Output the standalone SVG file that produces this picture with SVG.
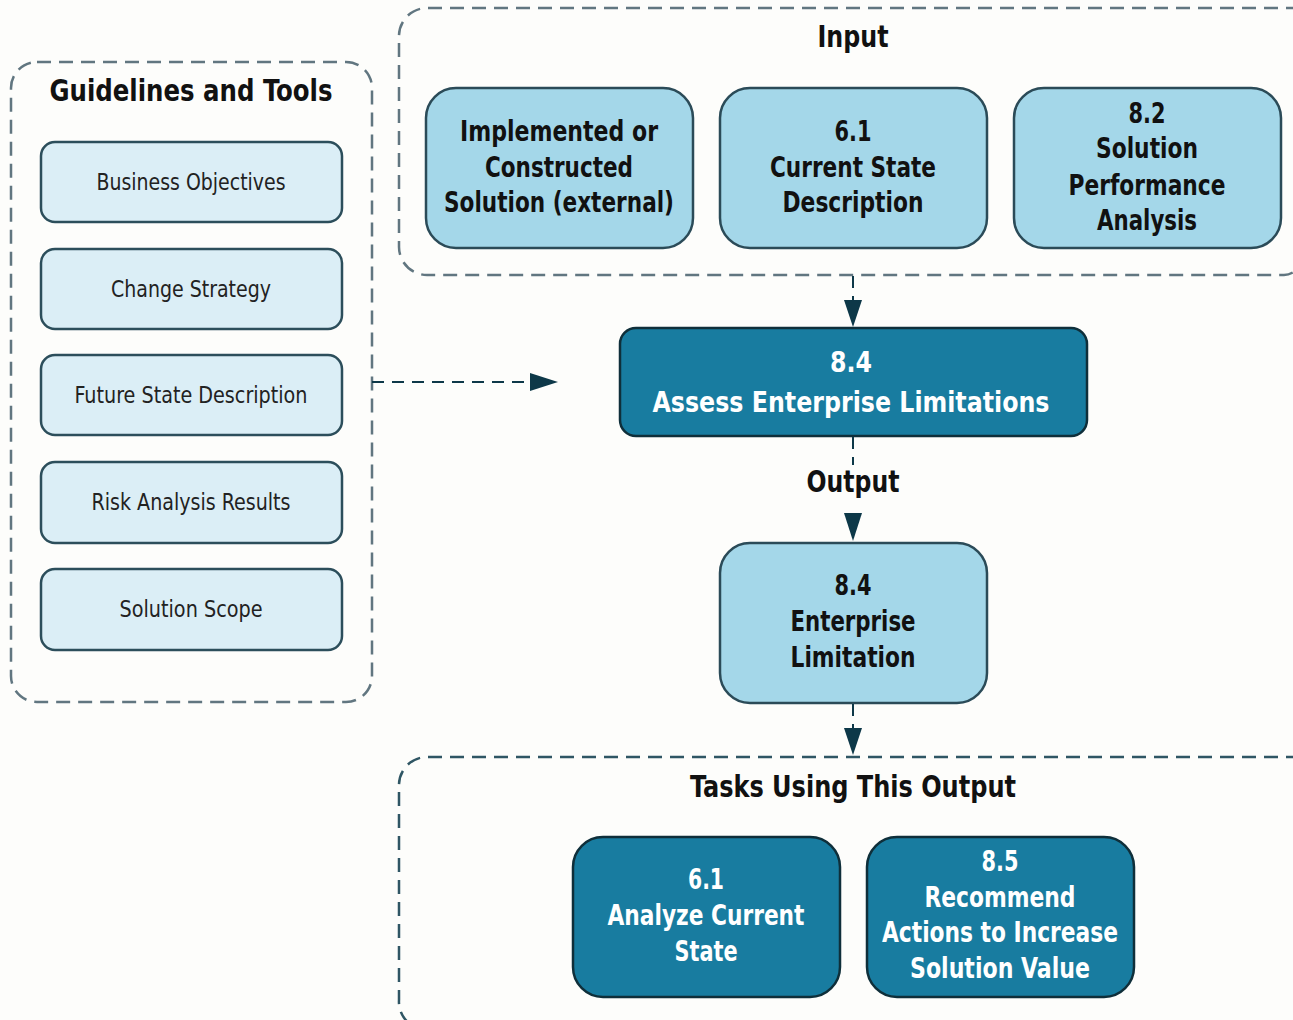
<svg xmlns="http://www.w3.org/2000/svg" width="1293" height="1020" viewBox="0 0 1293 1020">
<style>
text{font-family:"DejaVu Sans Condensed","DejaVu Sans","Open Sans",sans-serif;text-anchor:middle}
.cont{fill:none;stroke:#617680;stroke-width:2.5;stroke-dasharray:14 8}
.cont2{fill:none;stroke:#2f5664;stroke-width:2.5;stroke-dasharray:14 8}
.gt{fill:#dbeef6;stroke:#2c4e5b;stroke-width:2.5}
.gtt{font-size:23px;fill:#222}
.lt{fill:#a4d7e9;stroke:#2b4b58;stroke-width:2.5}
.ltt{font-size:28px;font-weight:bold;fill:#111}
.dk{fill:#187ca0;stroke:#0f2f3a;stroke-width:2.5}
.dkt{font-size:29px;font-weight:bold;fill:#fff}
.title{font-size:30px;font-weight:bold;fill:#111}
.conn{fill:none;stroke:#0d3848;stroke-width:2;stroke-dasharray:12 8}
.ah{fill:#0d3848}
</style>
<rect width="1293" height="1020" fill="#fdfdfb"/>
<g id="guidelines">
<rect class="cont" x="11" y="62" width="361" height="640" rx="26"/>
<text class="title" x="191" y="101" textLength="283" lengthAdjust="spacingAndGlyphs">Guidelines and Tools</text>
</g>
<g id="g1"><rect class="gt" x="41" y="142" width="301" height="80" rx="14"/><text class="gtt" x="191" y="190" textLength="189" lengthAdjust="spacingAndGlyphs">Business Objectives</text></g>
<g id="g2"><rect class="gt" x="41" y="249" width="301" height="80" rx="14"/><text class="gtt" x="191" y="297" textLength="160" lengthAdjust="spacingAndGlyphs">Change Strategy</text></g>
<g id="g3"><rect class="gt" x="41" y="355" width="301" height="80" rx="14"/><text class="gtt" x="191" y="403" textLength="233" lengthAdjust="spacingAndGlyphs">Future State Description</text></g>
<g id="g4"><rect class="gt" x="41" y="462" width="301" height="81" rx="14"/><text class="gtt" x="191" y="510" textLength="199" lengthAdjust="spacingAndGlyphs">Risk Analysis Results</text></g>
<g id="g5"><rect class="gt" x="41" y="569" width="301" height="81" rx="14"/><text class="gtt" x="191" y="617" textLength="143" lengthAdjust="spacingAndGlyphs">Solution Scope</text></g>
<g id="input">
<path class="cont" d="M1300 8 H427 A28 28 0 0 0 399 36 V247 A28 28 0 0 0 427 275 H1284 Q1292 275 1298 268"/>
<text class="title" x="853" y="47" textLength="71" lengthAdjust="spacingAndGlyphs">Input</text>
</g>
<g id="in1"><rect class="lt" x="426" y="88" width="267" height="160" rx="30"/>
<text class="ltt" x="559" y="141" textLength="198" lengthAdjust="spacingAndGlyphs">Implemented or</text><text class="ltt" x="559" y="177" textLength="148" lengthAdjust="spacingAndGlyphs">Constructed</text><text class="ltt" x="559" y="212" textLength="230" lengthAdjust="spacingAndGlyphs">Solution (external)</text></g>
<g id="in2"><rect class="lt" x="720" y="88" width="267" height="160" rx="30"/>
<text class="ltt" x="853" y="141" textLength="37" lengthAdjust="spacingAndGlyphs">6.1</text><text class="ltt" x="853" y="177" textLength="166" lengthAdjust="spacingAndGlyphs">Current State</text><text class="ltt" x="853" y="212" textLength="141" lengthAdjust="spacingAndGlyphs">Description</text></g>
<g id="in3"><rect class="lt" x="1014" y="88" width="267" height="160" rx="30"/>
<text class="ltt" x="1147" y="123" textLength="37" lengthAdjust="spacingAndGlyphs">8.2</text><text class="ltt" x="1147" y="158" textLength="102" lengthAdjust="spacingAndGlyphs">Solution</text><text class="ltt" x="1147" y="195" textLength="157" lengthAdjust="spacingAndGlyphs">Performance</text><text class="ltt" x="1147" y="230" textLength="100" lengthAdjust="spacingAndGlyphs">Analysis</text></g>
<g id="task"><rect class="dk" x="620" y="328" width="467" height="108" rx="16"/>
<text class="dkt" x="851" y="372" textLength="42" lengthAdjust="spacingAndGlyphs">8.4</text><text class="dkt" x="851" y="412" textLength="397" lengthAdjust="spacingAndGlyphs">Assess Enterprise Limitations</text></g>
<g id="out"><rect class="lt" x="720" y="543" width="267" height="160" rx="30"/>
<text class="ltt" x="853" y="595" textLength="37" lengthAdjust="spacingAndGlyphs">8.4</text><text class="ltt" x="853" y="631" textLength="125" lengthAdjust="spacingAndGlyphs">Enterprise</text><text class="ltt" x="853" y="667" textLength="125" lengthAdjust="spacingAndGlyphs">Limitation</text></g>
<g id="tasks">
<path class="cont2" d="M1300 757 H427 A28 28 0 0 0 399 785 V1000 A28 28 0 0 0 410 1024"/>
<text class="title" x="853" y="797" textLength="326" lengthAdjust="spacingAndGlyphs">Tasks Using This Output</text>
</g>
<g id="t1"><rect class="dk" x="573" y="837" width="267" height="160" rx="30"/>
<text class="dkt" x="706" y="889" textLength="36" lengthAdjust="spacingAndGlyphs">6.1</text><text class="dkt" x="706" y="925" textLength="197" lengthAdjust="spacingAndGlyphs">Analyze Current</text><text class="dkt" x="706" y="961" textLength="63" lengthAdjust="spacingAndGlyphs">State</text></g>
<g id="t2"><rect class="dk" x="867" y="837" width="267" height="160" rx="30"/>
<text class="dkt" x="1000" y="871" textLength="37" lengthAdjust="spacingAndGlyphs">8.5</text><text class="dkt" x="1000" y="907" textLength="151" lengthAdjust="spacingAndGlyphs">Recommend</text><text class="dkt" x="1000" y="942" textLength="236" lengthAdjust="spacingAndGlyphs">Actions to Increase</text><text class="dkt" x="1000" y="978" textLength="180" lengthAdjust="spacingAndGlyphs">Solution Value</text></g>
<g id="connectors">
<line class="conn" x1="853" y1="276" x2="853" y2="302"/>
<polygon class="ah" points="844,300 862,300 853,327"/>
<path class="conn" d="M372 382 H530"/>
<polygon class="ah" points="530,373 558,382 530,391"/>
<line class="conn" x1="853" y1="437" x2="853" y2="465"/>
<text class="title" x="853" y="492" textLength="93" lengthAdjust="spacingAndGlyphs">Output</text>
<polygon class="ah" points="844,513 862,513 853,541"/>
<line class="conn" x1="853" y1="704" x2="853" y2="730"/>
<polygon class="ah" points="844,728 862,728 853,755"/>
</g>
</svg>
